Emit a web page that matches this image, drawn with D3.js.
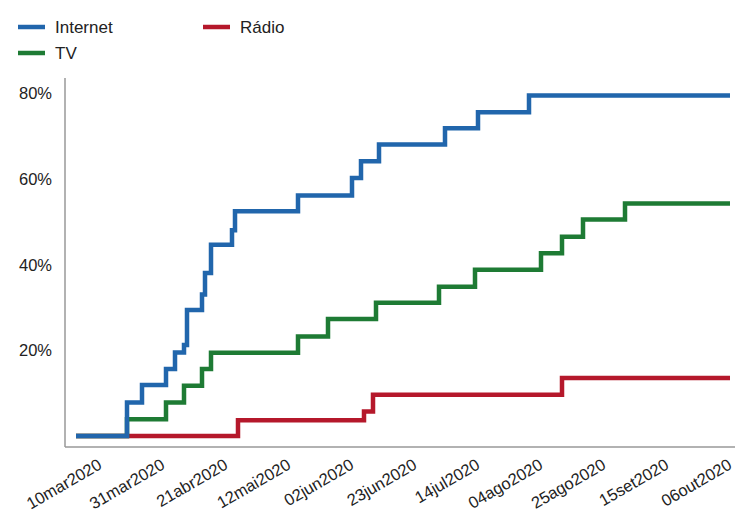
<!DOCTYPE html>
<html><head><meta charset="utf-8">
<script src="https://cdn.jsdelivr.net/npm/d3@7"></script>
<style>body{margin:0;background:#fff}text{font-family:"Liberation Sans",Arial,sans-serif}</style>
</head><body>
<svg width="735" height="519"></svg>
<script>
// step series: date where the level starts, and the level (%)
var internetDates = ["2020-03-02","2020-03-19","2020-03-24","2020-04-01","2020-04-04","2020-04-07","2020-04-08","2020-04-13","2020-04-14","2020-04-16","2020-04-23","2020-04-24","2020-05-15","2020-06-02","2020-06-05","2020-06-11","2020-07-03","2020-07-14","2020-07-31","2020-10-06"];
var internetValues = [0,7.8,11.9,15.6,19.5,21.2,29.4,33,38,44.6,48,52.4,56.1,60.2,64.1,68,71.8,75.5,79.4,79.4];
var tvDates = ["2020-03-02","2020-03-19","2020-04-01","2020-04-07","2020-04-13","2020-04-16","2020-05-15","2020-05-25","2020-06-10","2020-07-01","2020-07-13","2020-08-04","2020-08-11","2020-08-18","2020-09-01","2020-10-06"];
var tvValues = [0,3.9,7.8,11.7,15.6,19.4,23.2,27.3,31.1,34.8,38.8,42.6,46.5,50.5,54.2,54.2];
var radioDates = ["2020-03-02","2020-04-25","2020-06-06","2020-06-09","2020-08-11","2020-10-06"];
var radioValues = [0,3.7,5.7,9.6,13.5,13.5];
var tickDates = ["2020-03-10","2020-03-31","2020-04-21","2020-05-12","2020-06-02","2020-06-23","2020-07-14","2020-08-04","2020-08-25","2020-09-15","2020-10-06"];
var tickLabels = ["10mar2020","31mar2020","21abr2020","12mai2020","02jun2020","23jun2020","14jul2020","04ago2020","25ago2020","15set2020","06out2020"];
var yTicks = [20,40,60,80];

var parse = d3.utcParse("%Y-%m-%d");
var svg = d3.select("svg");
var x = d3.scaleUtc().domain([parse("2020-03-10"), parse("2020-10-06")]).range([100, 730]);
var y = d3.scaleLinear().domain([0, 80]).range([436, 93]);

svg.append("line").attr("x1",65).attr("x2",65).attr("y1",78).attr("y2",447).attr("stroke","#999").attr("stroke-width",1.5);
svg.append("line").attr("x1",65).attr("x2",735).attr("y1",447).attr("y2",447).attr("stroke","#999").attr("stroke-width",1.5);

svg.selectAll(".yl").data(yTicks).enter().append("text")
  .attr("x",52).attr("y",function(d){return y(d)+6;}).attr("text-anchor","end")
  .attr("font-size",16.5).attr("fill","#222").text(function(d){return d+"%";});

svg.selectAll(".xl").data(tickDates).enter().append("text")
  .attr("text-anchor","end").attr("font-size",16.5).attr("fill","#222")
  .attr("transform",function(d){return "translate("+(x(parse(d))+3)+",468) rotate(-30)";})
  .text(function(d,i){return tickLabels[i];});

var line = d3.line().curve(d3.curveStepAfter)
  .x(function(d){return x(d[0]);}).y(function(d){return y(d[1]);});
function draw(dates, vals, color){
  var pts = dates.map(function(d,i){return [parse(d), vals[i]];});
  svg.append("path").datum(pts).attr("d",line).attr("fill","none")
    .attr("stroke",color).attr("stroke-width",4.5);
}
draw(radioDates, radioValues, "#b5182b");
draw(tvDates, tvValues, "#1e7b34");
draw(internetDates, internetValues, "#2166ac");

var legend = [["Internet","#2166ac",18,27],["Rádio","#b5182b",203,27],["TV","#1e7b34",18,53]];
legend.forEach(function(l){
  svg.append("line").attr("x1",l[2]).attr("x2",l[2]+27).attr("y1",l[3]).attr("y2",l[3])
    .attr("stroke",l[1]).attr("stroke-width",4.5);
  svg.append("text").attr("x",l[2]+37).attr("y",l[3]+6).attr("font-size",17).attr("fill","#222").text(l[0]);
});
</script>
</body></html>
